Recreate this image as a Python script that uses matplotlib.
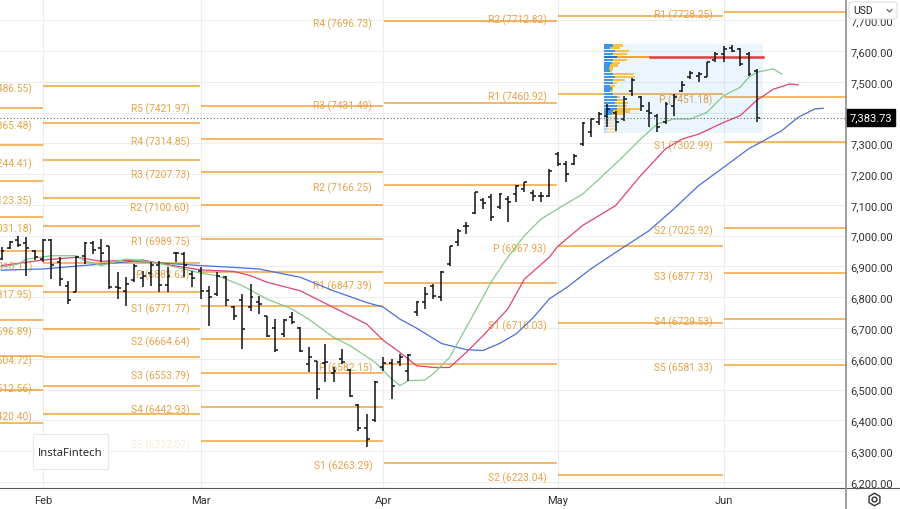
import matplotlib.pyplot as plt
from matplotlib.patches import Rectangle, FancyBboxPatch
from matplotlib.lines import Line2D

plt.rcParams['font.family'] = ['Roboto', 'DejaVu Sans']

# daily OHLC bars, index 0 = first visible bar
opens = [6925, 6960, 6985, 6975, 6950, 6925, 6985, 6915, 6838, 6818,
         6935, 6975, 6960, 6965, 6833, 6820, 6855, 6862, 6880, 6905,
         6840, 6943, 6940, 6875, 6885, 6820, 6812, 6865, 6770, 6790,
         6770, 6785, 6738, 6700, 6680, 6735, 6700, 6583, 6594, 6585,
         6555, 6600, 6565, 6450, 6375, 6400, 6575, 6585, 6590, 6560,
         6751, 6785, 6838, 6800, 6908, 6979, 7030, 7074, 7115, 7125,
         7092, 7119, 7135, 7152, 7140, 7130, 7130, 7265, 7233, 7232,
         7298, 7336, 7370, 7390, 7400, 7380, 7470, 7450, 7406, 7390,
         7368, 7420, 7471, 7515, 7520, 7517, 7570, 7590, 7610, 7605,
         7590, 7535]
highs = [6962, 6984, 7000, 6995, 6954, 6989, 6989, 6930, 6854, 6935,
         6978, 6984, 6989, 6968, 6881, 6865, 6908, 6886, 6913, 6919,
         6897, 6946, 6946, 6886, 6897, 6838, 6881, 6870, 6773, 6811,
         6843, 6805, 6740, 6729, 6729, 6751, 6702, 6637, 6594, 6648,
         6572, 6632, 6567, 6453, 6421, 6529, 6605, 6600, 6616, 6616,
         6789, 6832, 6843, 6886, 6968, 7022, 7046, 7143, 7121, 7135,
         7139, 7130, 7165, 7176, 7150, 7141, 7217, 7271, 7244, 7265,
         7368, 7382, 7401, 7428, 7406, 7455, 7511, 7455, 7433, 7395,
         7433, 7460, 7504, 7536, 7531, 7565, 7598, 7617, 7620, 7609,
         7596, 7541]
lows = [6921, 6957, 6962, 6870, 6921, 6913, 6859, 6838, 6778, 6816,
        6908, 6941, 6913, 6827, 6794, 6773, 6849, 6832, 6838, 6816,
        6816, 6913, 6865, 6832, 6794, 6708, 6805, 6773, 6725, 6632,
        6757, 6746, 6670, 6621, 6670, 6713, 6621, 6556, 6470, 6524,
        6524, 6583, 6475, 6367, 6313, 6394, 6560, 6470, 6577, 6528,
        6740, 6762, 6794, 6789, 6903, 6968, 7006, 7071, 7087, 7049,
        7087, 7046, 7111, 7143, 7114, 7108, 7125, 7228, 7173, 7230,
        7293, 7320, 7360, 7352, 7341, 7374, 7453, 7406, 7352, 7336,
        7363, 7390, 7466, 7509, 7500, 7514, 7563, 7563, 7596, 7551,
        7520, 7368]
closes = [6950, 6978, 6970, 6960, 6930, 6985, 6905, 6860, 6790, 6930,
          6975, 6955, 6945, 6832, 6830, 6843, 6900, 6870, 6905, 6840,
          6870, 6945, 6905, 6862, 6820, 6800, 6870, 6790, 6740, 6697,
          6800, 6778, 6675, 6628, 6725, 6720, 6625, 6605, 6502, 6590,
          6560, 6590, 6480, 6375, 6339, 6525, 6585, 6512, 6605, 6612,
          6784, 6810, 6805, 6882, 6965, 7016, 7033, 7141, 7105, 7060,
          7135, 7108, 7162, 7173, 7130, 7128, 7211, 7232, 7200, 7260,
          7366, 7379, 7395, 7410, 7370, 7445, 7505, 7420, 7400, 7352,
          7428, 7450, 7490, 7530, 7525, 7563, 7590, 7605, 7600, 7557,
          7525, 7383.73]
last_price = 7383.73

month_pos = [5, 24, 46, 67, 87]
month_names = ['Feb', 'Mar', 'Apr', 'May', 'Jun']

# alligator lines (bar index, price)
lips_x = [0, 2, 3, 6, 9, 10, 12, 15, 17, 19, 22, 24, 26, 29, 32, 35, 37, 40, 42,
          45, 47, 48, 49, 51, 52, 54, 56, 58, 59, 61, 63, 65, 67, 70, 72, 75, 77,
          79, 81, 83, 85, 87, 89, 90, 91, 93, 94]
lips_y = [6898, 6908, 6924, 6935, 6935, 6919, 6903, 6924, 6918, 6910, 6892, 6878,
          6870, 6838, 6794, 6762, 6729, 6670, 6643, 6589, 6535, 6513, 6529, 6531,
          6551, 6605, 6702, 6800, 6850, 6930, 7000, 7054, 7087, 7135, 7184, 7260,
          7314, 7363, 7379, 7379, 7401, 7455, 7482, 7514, 7531, 7542, 7525]
teeth_x = [0, 5, 9, 12, 17, 20, 24, 28, 30, 32, 36, 40, 44, 46, 48, 50, 52, 54,
           56, 58, 61, 63, 66, 67, 70, 74, 77, 80, 82, 84, 87, 89, 91, 93, 95, 96]
teeth_y = [6903, 6921, 6930, 6917, 6921, 6906, 6889, 6884, 6870, 6849, 6821, 6767,
           6713, 6660, 6621, 6578, 6572, 6572, 6621, 6675, 6762, 6859, 6930, 6965,
           7033, 7098, 7195, 7282, 7314, 7330, 7368, 7390, 7440, 7476, 7493, 7490]
jaw_x = [0, 5, 12, 16, 20, 24, 28, 31, 36, 40, 44, 46, 48, 50, 53, 56, 58, 60, 62,
         64, 66, 68, 71, 74, 78, 81, 84, 87, 90, 94, 96, 98, 99]
jaw_y = [6888, 6892, 6908, 6917, 6910, 6903, 6897, 6892, 6865, 6821, 6783, 6768,
         6729, 6700, 6650, 6630, 6627, 6650, 6681, 6732, 6795, 6830, 6892, 6946,
         7016, 7087, 7163, 7222, 7282, 7341, 7385, 7412, 7414]

# monthly pivot levels (lines start at period_start, labels sit left of it)
period_start = [-20, 5, 24, 46, 67, 87]
period_end = [5, 24, 46, 67, 87, 110]
names_11 = ['R5', 'R4', 'R3', 'R2', 'R1', 'P', 'S1', 'S2', 'S3', 'S4', 'S5']
piv_jan = [7415, 7296, 7178, 7061, 6950, 6837, 6726, 6609, 6499, 6392]
piv_feb = [7486.55, 7365.48, 7244.41, 7123.35, 7031.18, 6910.11, 6817.95,
           6696.89, 6604.72, 6512.56, 6420.40]
piv_mar = [7421.97, 7314.85, 7207.73, 7100.60, 6989.75, 6882.62, 6771.77,
           6664.64, 6553.79, 6442.93, 6332.07]
names_apr = ['R4', 'R3', 'R2', 'R1', 'P', 'S1']
piv_apr = [7696.73, 7431.49, 7166.25, 6847.39, 6582.15, 6263.29]
names_may = ['R2', 'R1', 'P', 'S1', 'S2']
piv_may = [7712.82, 7460.92, 6967.93, 6716.03, 6223.04]
names_jun = ['R1', 'P', 'S1', 'S2', 'S3', 'S4', 'S5']
piv_jun = [7728.25, 7451.18, 7302.99, 7025.92, 6877.73, 6729.53, 6581.33]

# fixed range volume profile (rows top -> bottom)
vp_top, vp_row = 7622.7, 9.33
vp_left, vp_right = 72.6, 91.7
vp_up = [9.3, 6, 11, 9.3, 13.3, 9.3, 7.7, 6, 5.3, 6, 9.3, 11, 9.3, 8.7, 6, 7.7,
         6, 9.3, 12.7, 13.3, 11, 13.3, 12.7, 9.3, 7.7, 6, 5.3, 4.3, 3.3, 2.7, 2]
vp_down = [9.3, 10, 14.3, 13.3, 32.7, 13.3, 8.3, 8.3, 4, 1.7, 20.7, 20, 11.7, 4.7,
           5, 1.7, 3.3, 1.7, 3.3, 6, 13.3, 9.3, 23.3, 16.7, 13.3, 7.3, 7.3, 5, 7.7,
           10.7, 10.7]
vp_value_rows = 25

px_per_bar = 8.3
LINE_C = '#f2a23a'
TEXT_C = '#e6a34a'

fig = plt.figure(figsize=(9, 5.1), dpi=100)
ax = fig.add_axes([0, 21 / 510, 846 / 900, 489 / 510])
ax.set_xlim(-1.5 / px_per_bar, 844.5 / px_per_bar)
ax.set_ylim(6180.5, 7768.9)
for s in ax.spines.values():
    s.set_visible(False)

ax.set_yticks(range(6200, 7701, 100))
ax.set_yticklabels([f'{v:,.2f}' for v in range(6200, 7701, 100)])
ax.yaxis.tick_right()
ax.set_xticks(month_pos)
ax.set_xticklabels(month_names)
ax.tick_params(axis='both', length=0, labelsize=8, labelcolor='#333333')
ax.tick_params(axis='y', pad=3)
ax.tick_params(axis='x', pad=5)
ax.grid(True, color='#ededed', lw=0.8, zorder=0)

# pivot lines and labels
periods = [
    (None, piv_jan),
    (names_11, piv_feb),
    (names_11, piv_mar),
    (names_apr, piv_apr),
    (names_may, piv_may),
    (names_jun, piv_jun),
]
for k, (names, levels) in enumerate(periods):
    ax.hlines(levels, period_start[k] + 0.05, period_end[k] - 0.05,
              color=LINE_C, lw=1.1, zorder=2)
    if names is None:
        continue
    for name, lv in zip(names, levels):
        ax.annotate(f'{name} ({lv:.2f})', xy=(period_start[k], lv),
                    xytext=(-8, -1.8), textcoords='offset points',
                    ha='right', va='center', fontsize=7.4, color=TEXT_C,
                    zorder=3)

# volume profile
vp_bottom = vp_top - len(vp_up) * vp_row
ax.add_patch(Rectangle((vp_left, vp_bottom), vp_right - vp_left, vp_top - vp_bottom,
                       fc='#2196f3', alpha=0.09, lw=0, zorder=3))
totals = [u + d for u, d in zip(vp_up, vp_down)]
poc = totals.index(max(totals))
for i, (u, d) in enumerate(zip(vp_up, vp_down)):
    yb = vp_top - (i + 1) * vp_row + vp_row * 0.12
    h = vp_row * 0.76
    a = 1.0 if i < vp_value_rows else 0.35
    bc = '#2a6fc4' if i == poc else '#3f97e3'
    dc = '#f2a22e' if i == poc else '#f4c24b'
    ax.add_patch(Rectangle((vp_left, yb), u / px_per_bar, h, fc=bc, alpha=a, lw=0, zorder=3.5))
    ax.add_patch(Rectangle((vp_left + u / px_per_bar, yb), d / px_per_bar, h, fc=dc,
                           alpha=a, lw=0, zorder=3.5))
poc_y = vp_top - (poc + 0.5) * vp_row
ax.plot([vp_left + totals[poc] / px_per_bar, vp_right], [poc_y, poc_y],
        color='#e5393b', lw=1.8, zorder=3.6)

# alligator
ax.plot(jaw_x, jaw_y, color='#4a6fd8', lw=0.9, zorder=4)
ax.plot(teeth_x, teeth_y, color='#e0436c', lw=0.9, zorder=4)
ax.plot(lips_x, lips_y, color='#84c98c', lw=0.9, zorder=4)

# OHLC bars
idx = list(range(len(opens)))
tick = 0.36
ax.vlines(idx, lows, highs, color='#111111', lw=1.1, zorder=5)
ax.hlines(opens, [i - tick for i in idx], idx, color='#111111', lw=1.1, zorder=5)
ax.hlines(closes, idx, [i + tick for i in idx], color='#111111', lw=1.1, zorder=5)

# last price
ax.axhline(last_price, color='#666666', lw=0.8, ls=(0, (1, 2)), zorder=6)
ax.text(1.004, last_price, f'{last_price:,.2f}', transform=ax.get_yaxis_transform(),
        ha='left', va='center', fontsize=8, color='white', zorder=10, clip_on=False,
        bbox=dict(boxstyle='square,pad=0.28', fc='#000000', ec='#000000'))

# frame lines of the chart pane
fig.add_artist(Line2D([0, 1], [21 / 510, 21 / 510], color='#555555', lw=0.8))
fig.add_artist(Line2D([846 / 900, 846 / 900], [0, 1], color='#8c8c8c', lw=1.2))

# watermark (its translucent strip dims the label under it)
fig.add_artist(FancyBboxPatch((108 / 900, 1 - 452 / 510), 92 / 900, 22 / 510,
                              boxstyle='square,pad=0', fc='white', ec='none', alpha=0.8))
fig.add_artist(FancyBboxPatch((33 / 900, 1 - 470 / 510), 75 / 900, 35 / 510,
                              boxstyle='square,pad=0', fc='white', ec='#e8e8e8', lw=0.8))
fig.text(70.5 / 900, 1 - 454 / 510, 'InstaFintech', ha='center', va='center',
         fontsize=8.2, color='#1e1e1e', family=['Open Sans', 'DejaVu Sans'])

# currency box
fig.add_artist(FancyBboxPatch((849 / 900, 1 - 20 / 510), 48 / 900, 17 / 510,
                              boxstyle='round,pad=0,rounding_size=0.004', fc='white',
                              ec='#dddddd', lw=0.8))
fig.text(853 / 900, 1 - 11.5 / 510, 'USD', ha='left', va='center', fontsize=7.5,
         color='#222222')
fig.add_artist(Line2D([887 / 900, 889.5 / 900, 892 / 900],
                      [1 - 10.5 / 510, 1 - 13 / 510, 1 - 10.5 / 510],
                      color='#555555', lw=0.8))

# settings icon
fig.add_artist(Line2D([874 / 900], [10 / 510], marker='h', ms=9, mfc='none',
                      mec='#333333', mew=1.0))
fig.add_artist(Line2D([874 / 900], [10 / 510], marker='o', ms=3.5, mfc='none',
                      mec='#333333', mew=1.0))

fig.savefig('out.png', dpi=100)
